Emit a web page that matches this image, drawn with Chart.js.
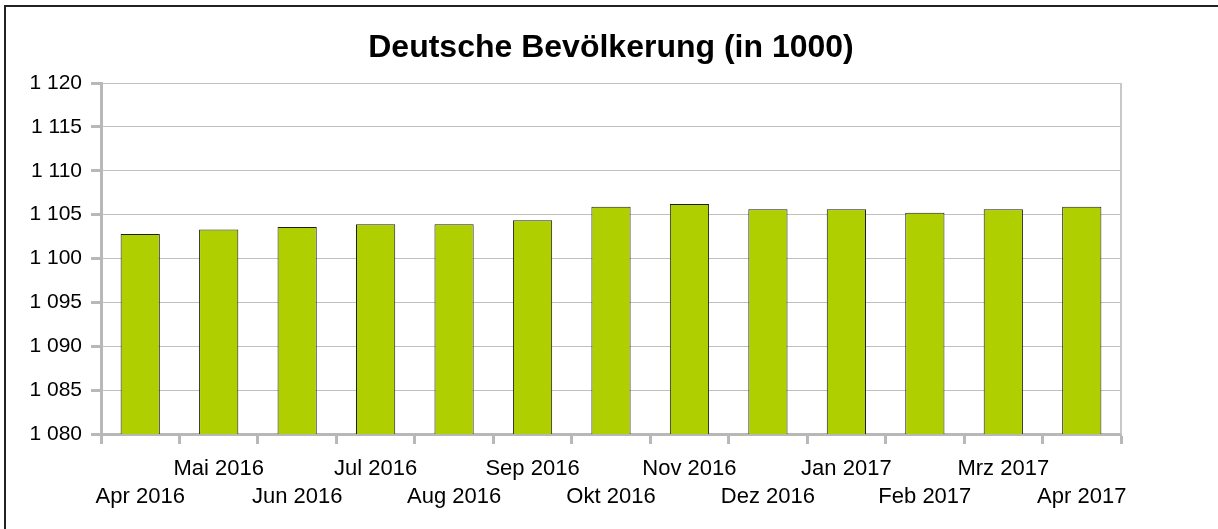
<!DOCTYPE html>
<html>
<head>
<meta charset="utf-8">
<script src="https://cdn.jsdelivr.net/npm/chart.js@4"></script>
<style>
  html, body { margin: 0; padding: 0; background: #fff; }
  #wrap { position: relative; width: 1218px; height: 529px; overflow: hidden; }
  #frame { position: absolute; left: 4px; top: 5px; width: 1220px; height: 530px;
           border-top: 2px solid #222; border-left: 2px solid #222; box-sizing: border-box; pointer-events: none; }
  canvas { position: absolute; left: 0; top: 0; }
</style>
</head>
<body>
<div id="wrap">
<canvas id="c" width="1218" height="529"></canvas>
<div id="frame"></div>
</div>
<script>
const categories = ['Apr 2016','Mai 2016','Jun 2016','Jul 2016','Aug 2016','Sep 2016','Okt 2016','Nov 2016','Dez 2016','Jan 2017','Feb 2017','Mrz 2017','Apr 2017'];
const population = [1102.8, 1103.3, 1103.6, 1103.9, 1103.9, 1104.35, 1105.9, 1106.2, 1105.6, 1105.6, 1105.2, 1105.6, 1105.9];
const yMin = 1080;
const yMax = 1120;
const yStep = 5;
const chartTitle = 'Deutsche Bevölkerung (in 1000)';

// staggered two-row category labels
const staggered = categories.map((c, i) => i % 2 === 0 ? ['', c] : [c, '']);

const fmt = v => {
  const th = Math.floor(v / 1000);
  const rest = String(Math.round(v % 1000)).padStart(3, '0');
  return th > 0 ? th + ' ' + rest : rest;
};

const rightEdge = {
  id: 'rightEdge',
  afterDatasetsDraw(chart) {
    const {ctx, chartArea} = chart;
    ctx.save();
    ctx.strokeStyle = '#c8c8c8';
    ctx.lineWidth = 2;
    ctx.beginPath();
    ctx.moveTo(chartArea.right, chartArea.top);
    ctx.lineTo(chartArea.right, chartArea.bottom);
    ctx.stroke();
    ctx.restore();
  }
};

// title centred over the plot area (as in the reference)
const plotTitle = {
  id: 'plotTitle',
  afterDraw(chart) {
    const {ctx, chartArea} = chart;
    ctx.save();
    ctx.fillStyle = '#000';
    ctx.font = 'bold 32px "Liberation Sans", Arial, sans-serif';
    ctx.textAlign = 'center';
    ctx.textBaseline = 'middle';
    ctx.fillText(chartTitle, (chartArea.left + chartArea.right) / 2, 48);
    ctx.restore();
  }
};

new Chart(document.getElementById('c'), {
  type: 'bar',
  data: {
    labels: staggered,
    datasets: [{
      data: population,
      backgroundColor: '#b0cf00',
      borderColor: '#1e1e1e',
      borderWidth: 1,
      borderSkipped: 'bottom',
      barPercentage: 0.5,
      categoryPercentage: 1.0
    }]
  },
  options: {
    responsive: false,
    animation: false,
    devicePixelRatio: 1,
    layout: { padding: { left: 0, right: 97, top: 83, bottom: 0 } },
    plugins: {
      legend: { display: false },
      tooltip: { enabled: false },
      title: { display: false }
    },
    scales: {
      x: {
        offset: true,
        grid: { offset: true, drawOnChartArea: false, drawTicks: true, tickLength: 10, tickWidth: 3, tickColor: '#b8b8b8' },
        border: { display: true, color: '#b8b8b8', width: 3 },
        ticks: {
          color: '#000',
          autoSkip: false,
          maxRotation: 0,
          minRotation: 0,
          padding: 11,
          font: { family: '"Liberation Sans", Arial, sans-serif', size: 22, lineHeight: 1.27 }
        },
        afterFit(scale) { scale.height = 529 - 434; }
      },
      y: {
        min: yMin,
        max: yMax,
        grid: { color: '#c0c0c0', lineWidth: 1, drawTicks: true, tickLength: 10, tickWidth: 3, tickColor: '#b8b8b8' },
        border: { display: true, color: '#b8b8b8', width: 3 },
        ticks: {
          stepSize: yStep,
          color: '#000',
          padding: 9,
          font: { family: '"Liberation Sans", Arial, sans-serif', size: 21 },
          callback: v => fmt(v)
        },
        afterFit(scale) { scale.width = 101; }
      }
    }
  },
  plugins: [rightEdge, plotTitle]
});
</script>
</body>
</html>
